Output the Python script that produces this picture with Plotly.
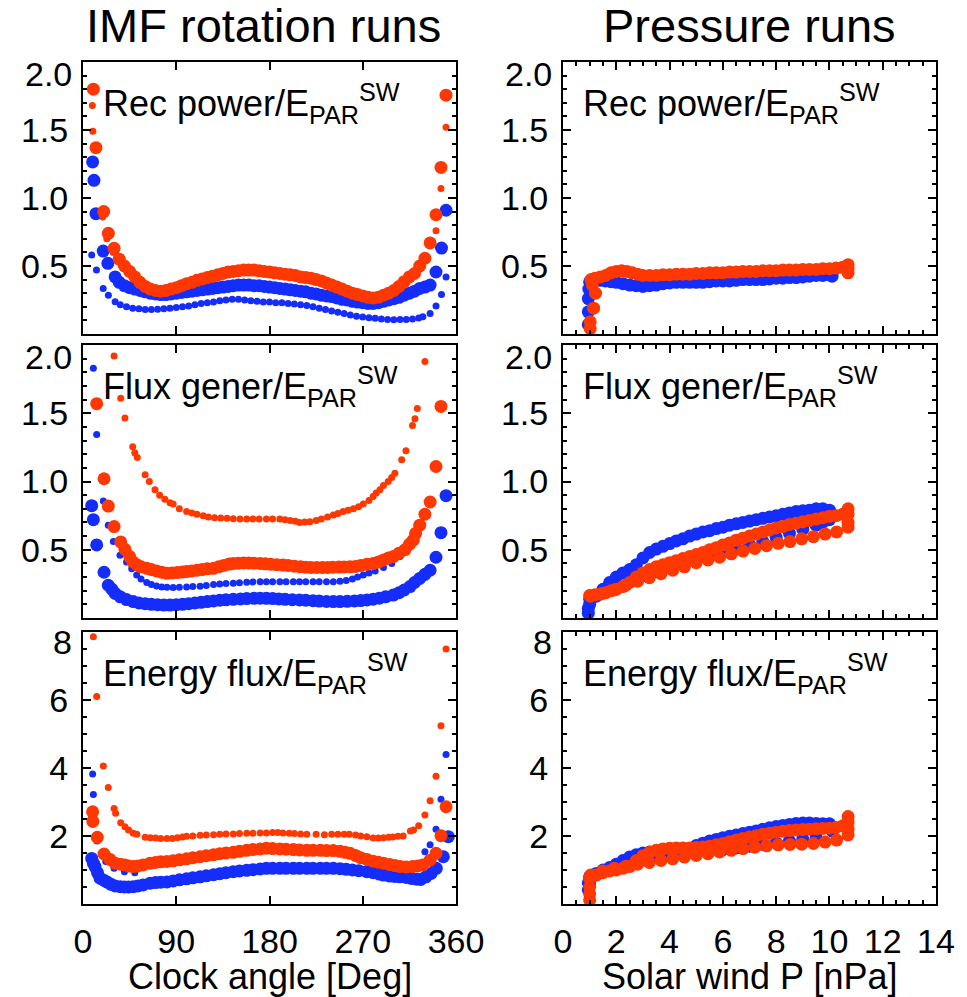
import plotly.graph_objects as go

# ---------------- IMF rotation runs (clock angle, deg) ----------------
# Reconnection power / E_PAR^SW
REC_BB_X = [9.3, 10.6, 12.5, 19.5, 24, 31, 35, 40, 45, 50,
            55, 60, 65, 70, 75, 80, 85, 90, 95, 100,
            105, 110, 115, 120, 125, 130, 135, 140, 145, 150,
            155, 160, 165, 170, 175, 180, 185, 190, 195, 200,
            205, 210, 215, 220, 225, 230, 235, 240, 245, 250,
            255, 260, 265, 270, 275, 280, 285, 290, 295, 300,
            305, 310, 315, 320, 325, 330, 335, 340.7, 346, 350.4]
REC_BB_Y = [1.265, 1.13, 0.885, 0.61, 0.52, 0.42, 0.38, 0.355, 0.34, 0.33,
            0.32, 0.31, 0.30, 0.295, 0.29, 0.29, 0.295, 0.30, 0.305, 0.31,
            0.315, 0.32, 0.325, 0.33, 0.335, 0.34, 0.345, 0.35, 0.355, 0.36,
            0.36, 0.36, 0.355, 0.355, 0.35, 0.345, 0.34, 0.335, 0.33, 0.325,
            0.32, 0.315, 0.31, 0.30, 0.295, 0.285, 0.28, 0.275, 0.265, 0.255,
            0.25, 0.24, 0.235, 0.23, 0.225, 0.225, 0.23, 0.24, 0.25, 0.26,
            0.27, 0.285, 0.30, 0.315, 0.335, 0.345, 0.36, 0.456, 0.632, 0.91]

REC_OB_X = [10, 12.5, 20, 24.5, 30, 35, 40, 45, 50, 55,
            60, 65, 70, 75, 80, 85, 90, 95, 100, 105,
            110, 115, 120, 125, 130, 135, 140, 145, 150, 155,
            160, 165, 170, 175, 180, 185, 190, 195, 200, 205,
            210, 215, 220, 225, 230, 235, 240, 245, 250, 255,
            260, 265, 270, 275, 280, 285, 290, 295, 300, 305,
            310, 315, 320, 325, 330, 335, 340.7, 345.5, 350.4]
REC_OB_Y = [1.80, 1.37, 0.90, 0.74, 0.63, 0.55, 0.50, 0.46, 0.42, 0.38,
            0.35, 0.33, 0.32, 0.315, 0.32, 0.33, 0.34, 0.355, 0.37, 0.38,
            0.395, 0.405, 0.415, 0.425, 0.435, 0.445, 0.455, 0.46, 0.465, 0.47,
            0.47, 0.47, 0.465, 0.46, 0.455, 0.45, 0.445, 0.44, 0.435, 0.43,
            0.42, 0.415, 0.41, 0.40, 0.39, 0.375, 0.36, 0.345, 0.33, 0.315,
            0.30, 0.29, 0.28, 0.27, 0.265, 0.27, 0.285, 0.30, 0.32, 0.35,
            0.385, 0.42, 0.445, 0.50, 0.557, 0.67, 0.877, 1.225, 1.756]

REC_OS_X = [9, 9.5, 19, 23, 29, 40, 60, 80, 100, 120,
            140, 160, 180, 200, 220, 240, 260, 280, 300, 320,
            330, 340.7, 345.5, 350.4]
REC_OS_Y = [1.68, 1.49, 0.86, 0.70, 0.60, 0.48, 0.34, 0.31, 0.36, 0.41,
            0.45, 0.46, 0.45, 0.43, 0.40, 0.35, 0.29, 0.255, 0.31, 0.44,
            0.54, 0.76, 1.07, 1.52]

REC_BS_X = [8.4, 13, 19.5, 24.5, 31, 36, 42, 48, 54, 60,
            66, 72, 78, 84, 90, 96, 102, 108, 114, 120,
            126, 132, 138, 144, 150, 156, 162, 168, 174, 180,
            186, 192, 198, 204, 210, 216, 222, 228, 234, 240,
            246, 252, 258, 264, 270, 276, 282, 288, 294, 300,
            306, 312, 318, 324, 328, 335, 340.7, 346, 350.4]
REC_BS_Y = [0.58, 0.47, 0.335, 0.285, 0.237, 0.215, 0.20, 0.19, 0.185, 0.18,
            0.18, 0.182, 0.185, 0.19, 0.195, 0.20, 0.205, 0.215, 0.225, 0.23,
            0.235, 0.245, 0.25, 0.255, 0.255, 0.25, 0.245, 0.24, 0.235, 0.235,
            0.23, 0.23, 0.225, 0.22, 0.215, 0.21, 0.20, 0.19, 0.18, 0.17,
            0.16, 0.15, 0.14, 0.13, 0.125, 0.12, 0.115, 0.11, 0.107, 0.105,
            0.107, 0.107, 0.11, 0.117, 0.127, 0.15, 0.205, 0.29, 0.42]

# Flux generation / E_PAR^SW
FLUX_OS_X = [30, 36.4, 40.5, 48, 50, 52.4, 60, 64, 69.5, 74,
             79, 84, 87, 93, 100, 105, 110, 116, 121, 127,
             133, 139, 145, 151.5, 158, 164, 170, 177, 183, 190,
             195, 200, 205, 209, 214, 219, 225, 230, 236, 241.6,
             246, 251, 256, 261, 266, 270.5, 276, 280, 283, 286.6,
             290, 294.6, 298, 301, 307.6, 311.7, 318, 320.4, 322.7, 330]
FLUX_OS_Y = [1.92, 1.61, 1.465, 1.255, 1.21, 1.175, 1.05, 1.0, 0.94, 0.90,
             0.87, 0.845, 0.835, 0.80, 0.78, 0.77, 0.76, 0.75, 0.74, 0.735,
             0.732, 0.73, 0.728, 0.725, 0.725, 0.725, 0.725, 0.726, 0.725, 0.725,
             0.72, 0.715, 0.708, 0.70, 0.703, 0.705, 0.715, 0.725, 0.74, 0.755,
             0.765, 0.78, 0.79, 0.80, 0.815, 0.835, 0.86, 0.89, 0.915, 0.94,
             0.97, 1.0, 1.03, 1.06, 1.16, 1.225, 1.41, 1.46, 1.535, 1.88]

FLUX_OB_X = [13.2, 20.3, 24.4, 30, 36.4, 40.5, 45, 48, 52, 56,
             61.5, 66, 71, 76, 81, 86, 91, 96, 100, 105,
             110, 115, 120, 126, 131, 136, 141, 145, 150, 155,
             160, 165, 171, 176, 181, 187, 193, 198, 204, 210,
             215, 220, 225.5, 231, 236, 241, 247, 252, 257.7, 263,
             268, 274, 280, 285, 290, 295, 299.5, 305, 310.7, 315,
             318.7, 321, 325, 330, 335, 340.7, 345.5]
FLUX_OB_Y = [1.57, 1.02, 0.82, 0.67, 0.557, 0.503, 0.45, 0.412, 0.39, 0.375,
             0.364, 0.355, 0.345, 0.335, 0.327, 0.33, 0.333, 0.337, 0.34, 0.345,
             0.35, 0.355, 0.36, 0.364, 0.375, 0.385, 0.395, 0.40, 0.402, 0.403,
             0.403, 0.402, 0.40, 0.397, 0.394, 0.39, 0.388, 0.385, 0.38, 0.375,
             0.372, 0.37, 0.37, 0.37, 0.37, 0.372, 0.373, 0.374, 0.375, 0.378,
             0.385, 0.393, 0.40, 0.41, 0.425, 0.44, 0.45, 0.475, 0.50, 0.54,
             0.57, 0.62, 0.68, 0.76, 0.85, 1.11, 1.55]

FLUX_BB_X = [8.4, 10, 13.2, 20.3, 24.4, 28, 31, 36, 42, 48.5,
             54, 60, 66, 72, 78, 84, 90, 96, 102, 108,
             114, 120, 126, 132, 138, 145, 152, 158, 165, 171,
             177, 183, 189, 195, 202, 209, 215, 222, 228, 235,
             241.6, 248, 255, 262, 268, 274, 280, 286, 292, 299.5,
             305, 310, 315.6, 320, 325, 330, 335, 340.7, 345.5, 350.4]
FLUX_BB_Y = [0.823, 0.72, 0.535, 0.335, 0.24, 0.21, 0.18, 0.155, 0.135, 0.12,
             0.11, 0.105, 0.10, 0.097, 0.095, 0.095, 0.097, 0.10, 0.105, 0.11,
             0.115, 0.12, 0.125, 0.13, 0.133, 0.137, 0.14, 0.142, 0.144, 0.145,
             0.144, 0.142, 0.14, 0.137, 0.134, 0.132, 0.13, 0.127, 0.124, 0.121,
             0.12, 0.12, 0.122, 0.125, 0.128, 0.132, 0.138, 0.145, 0.155, 0.168,
             0.185, 0.205, 0.23, 0.26, 0.29, 0.32, 0.35, 0.445, 0.625, 0.896]

FLUX_BS_X = [10, 13.2, 19.6, 24.4, 29.3, 35.7, 42, 47, 51.8, 56,
             61.5, 66, 71, 76, 81, 87, 93, 100, 106, 113,
             119, 126, 132, 138, 145, 151, 158, 164, 171, 177,
             183, 190, 196, 203, 209, 215, 222, 228, 235, 241.6,
             248, 254, 260, 265, 270.5, 276, 282, 290, 298, 306,
             314, 322]
FLUX_BS_Y = [1.83, 1.345, 0.857, 0.68, 0.56, 0.46, 0.41, 0.36, 0.315, 0.285,
             0.26, 0.245, 0.235, 0.228, 0.225, 0.224, 0.225, 0.227, 0.23, 0.232,
             0.238, 0.245, 0.25, 0.252, 0.254, 0.258, 0.262, 0.264, 0.266, 0.266,
             0.266, 0.266, 0.266, 0.266, 0.266, 0.266, 0.266, 0.266, 0.266, 0.266,
             0.27, 0.275, 0.285, 0.30, 0.315, 0.33, 0.345, 0.37, 0.40, 0.45,
             0.53, 0.645]

# Energy flux / E_PAR^SW
NRG_OS_X = [10, 13.2, 19.6, 24.4, 30, 31.5, 36.4, 40.5, 44, 48.5,
            52, 60, 65, 70, 75, 81, 86, 91, 96, 100,
            106, 113, 119, 126, 132, 138, 145, 151, 158, 164,
            171, 177, 183, 188, 193, 199, 204, 210, 216, 225,
            233, 240, 246, 252, 257, 263, 268, 274, 280, 285,
            290, 295, 299, 304, 309, 316, 319, 324, 330, 335,
            340.7, 345.5, 350.4]
NRG_OS_Y = [7.86, 6.10, 4.06, 3.43, 2.81, 2.67, 2.39, 2.27, 2.18, 2.08,
            2.05, 1.96, 1.95, 1.94, 1.93, 1.93, 1.93, 1.95, 1.97, 1.99,
            2.0, 2.02, 2.03, 2.04, 2.05, 2.06, 2.06, 2.07, 2.08, 2.08,
            2.09, 2.09, 2.10, 2.10, 2.09, 2.08, 2.07, 2.06, 2.05, 2.05,
            2.04, 2.05, 2.05, 2.05, 2.05, 2.03, 2.0, 1.98, 1.94, 1.94,
            1.95, 1.96, 1.97, 1.99, 2.0, 2.15, 2.18, 2.3, 2.62, 3.04,
            3.76, 5.24, 7.5]

NRG_OB_X = [9.3, 9.5, 13.8, 20.3, 26, 31, 36, 40.5, 44, 48.5,
            53, 58, 64.7, 70, 75, 81, 87, 93, 100, 106,
            113, 119, 126, 132, 138, 145, 151, 158, 164, 171,
            177, 183, 190, 196, 203, 209, 216, 222, 229, 235,
            241.6, 248, 253, 257.7, 263, 268, 274, 280, 285, 290,
            296, 301, 306, 312, 318, 323, 328, 335, 340.7, 345.5,
            350.4]
NRG_OB_Y = [2.71, 2.43, 1.96, 1.47, 1.31, 1.2, 1.17, 1.15, 1.12, 1.1,
            1.12, 1.15, 1.2, 1.22, 1.24, 1.25, 1.27, 1.30, 1.33, 1.36,
            1.39, 1.42, 1.45, 1.48, 1.5, 1.52, 1.55, 1.58, 1.6, 1.62,
            1.64, 1.63, 1.62, 1.61, 1.6, 1.59, 1.58, 1.58, 1.58, 1.57,
            1.57, 1.55, 1.52, 1.49, 1.43, 1.36, 1.31, 1.26, 1.23, 1.2,
            1.16, 1.13, 1.1, 1.09, 1.1, 1.12, 1.15, 1.29, 1.49, 2.01,
            2.86]

NRG_BB_X = [8.4, 10, 11.6, 14, 16.4, 20, 23, 27, 31, 36,
            40, 44, 48.5, 53, 58, 64.7, 70, 75, 81, 87,
            93, 100, 106, 113, 119, 126, 132, 138, 145, 151,
            158, 164, 171, 177, 183, 190, 196, 203, 209, 216,
            222, 229, 235, 241.6, 248, 254, 260, 266, 274, 280,
            286, 290, 296, 301, 306, 312, 317, 322, 326, 331,
            336, 341, 347.8, 352.6]
NRG_BB_Y = [1.34, 1.2, 1.10, 0.92, 0.76, 0.7, 0.65, 0.58, 0.53, 0.51,
            0.5, 0.5, 0.51, 0.53, 0.56, 0.61, 0.63, 0.64, 0.65, 0.68,
            0.71, 0.74, 0.77, 0.80, 0.83, 0.86, 0.89, 0.92, 0.95, 0.97,
            0.99, 1.01, 1.03, 1.05, 1.05, 1.05, 1.05, 1.05, 1.05, 1.05,
            1.05, 1.05, 1.05, 1.05, 1.04, 1.02, 1.0, 0.98, 0.95, 0.92,
            0.88, 0.85, 0.82, 0.81, 0.80, 0.78, 0.75, 0.73, 0.72, 0.80,
            0.9, 1.05, 1.39, 1.98]

NRG_BS_X = [9.3, 10, 13.5, 18, 22, 30, 40, 50, 70, 90,
            110, 130, 150, 170, 190, 210, 230, 250, 270, 290,
            310, 325, 330, 335, 340.7, 345.5, 350.4]
NRG_BS_Y = [3.82, 3.22, 1.85, 1.45, 1.25, 1.05, 0.95, 0.92, 0.68, 0.74,
            0.83, 0.93, 1.0, 1.07, 1.09, 1.09, 1.09, 1.07, 1.0, 0.92,
            0.85, 1.2, 1.54, 1.74, 2.2, 3.08, 4.4]

# ---------------- Pressure runs (solar wind P, nPa) ----------------
P_REC_B_X = [0.95, 0.95, 0.95, 0.97, 1.0, 1.2, 1.4, 1.6, 1.8, 2.0,
             2.25, 2.5, 2.75, 3.0, 3.25, 3.5, 3.75, 4.0, 4.25, 4.5,
             4.75, 5.0, 5.25, 5.5, 5.75, 6.0, 6.25, 6.5, 6.75, 7.0,
             7.25, 7.5, 7.75, 8.0, 8.25, 8.5, 8.75, 9.0, 9.25, 9.5,
             9.75, 10.0, 10.1]
P_REC_B_Y = [0.07, 0.163, 0.26, 0.33, 0.383, 0.40, 0.395, 0.39, 0.385, 0.38,
             0.37, 0.36, 0.355, 0.35, 0.355, 0.36, 0.37, 0.375, 0.38, 0.38,
             0.38, 0.38, 0.38, 0.385, 0.39, 0.39, 0.39, 0.395, 0.40, 0.40,
             0.40, 0.40, 0.405, 0.41, 0.41, 0.415, 0.415, 0.42, 0.425, 0.43,
             0.43, 0.435, 0.425]

P_REC_O_X = [1.02, 1.02, 1.15, 1.22, 1.1, 1.05, 1.2, 1.4, 1.6, 1.8,
             2.0, 2.2, 2.4, 2.6, 2.8, 3.0, 3.25, 3.5, 3.75, 4.0,
             4.25, 4.5, 4.75, 5.0, 5.25, 5.5, 5.75, 6.0, 6.25, 6.5,
             6.75, 7.0, 7.25, 7.5, 7.75, 8.0, 8.25, 8.5, 8.75, 9.0,
             9.25, 9.5, 9.75, 10.0, 10.25, 10.5, 10.7, 10.7, 10.7]
P_REC_O_Y = [0.04, 0.09, 0.19, 0.30, 0.36, 0.40, 0.41, 0.42, 0.43, 0.45,
             0.46, 0.465, 0.46, 0.45, 0.44, 0.43, 0.43, 0.43, 0.435, 0.435,
             0.44, 0.44, 0.44, 0.445, 0.445, 0.45, 0.45, 0.45, 0.455, 0.455,
             0.46, 0.46, 0.46, 0.465, 0.465, 0.465, 0.47, 0.47, 0.47, 0.475,
             0.475, 0.475, 0.48, 0.48, 0.485, 0.49, 0.51, 0.48, 0.45]

P_FLUX_B_X = [0.95, 0.95, 1.0, 1.25, 1.5, 1.75, 2.0, 2.25, 2.5, 2.75,
              3.0, 3.25, 3.5, 3.75, 4.0, 4.25, 4.5, 4.75, 5.0, 5.25,
              5.5, 5.75, 6.0, 6.25, 6.5, 6.75, 7.0, 7.25, 7.5, 7.75,
              8.0, 8.25, 8.5, 8.75, 9.0, 9.25, 9.5, 9.75, 10.0, 10.1,
              10.0, 9.75, 9.5, 9.0, 8.5, 8.0, 7.5, 7.0, 6.5, 6.0,
              5.5, 5.0, 4.5, 4.0, 3.5, 3.0, 2.5, 2.0, 1.5, 1.0]
P_FLUX_B_Y = [0.035, 0.07, 0.10, 0.16, 0.21, 0.26, 0.30, 0.33, 0.355, 0.39,
              0.44, 0.48, 0.505, 0.525, 0.545, 0.565, 0.58, 0.60, 0.615, 0.63,
              0.64, 0.655, 0.665, 0.68, 0.69, 0.70, 0.71, 0.72, 0.73, 0.74,
              0.75, 0.76, 0.77, 0.78, 0.785, 0.79, 0.80, 0.80, 0.79, 0.76,
              0.72, 0.70, 0.68, 0.65, 0.62, 0.59, 0.56, 0.535, 0.51, 0.48,
              0.455, 0.43, 0.40, 0.37, 0.34, 0.31, 0.27, 0.23, 0.19, 0.14]

P_FLUX_O_X = [1.0, 1.2, 1.4, 1.6, 1.8, 2.0, 2.25, 2.5, 2.75, 3.0,
              3.25, 3.5, 3.75, 4.0, 4.25, 4.5, 4.75, 5.0, 5.25, 5.5,
              5.75, 6.0, 6.25, 6.5, 6.75, 7.0, 7.25, 7.5, 7.75, 8.0,
              8.25, 8.5, 8.75, 9.0, 9.25, 9.5, 9.75, 10.0, 10.25, 10.5,
              10.7, 10.7, 10.7, 10.7, 10.27, 9.84, 9.4, 8.96, 8.52, 8.08,
              7.64, 7.2, 6.76, 6.32, 5.88, 5.44, 5.0, 4.56, 4.12, 3.68,
              3.24, 2.8, 2.36, 1.92, 1.48, 1.04]
P_FLUX_O_Y = [0.165, 0.17, 0.175, 0.185, 0.20, 0.21, 0.23, 0.26, 0.30, 0.33,
              0.355, 0.375, 0.39, 0.405, 0.42, 0.435, 0.45, 0.465, 0.48, 0.50,
              0.515, 0.535, 0.55, 0.57, 0.585, 0.60, 0.615, 0.63, 0.645, 0.66,
              0.67, 0.685, 0.695, 0.705, 0.715, 0.725, 0.735, 0.745, 0.75, 0.76,
              0.80, 0.76, 0.70, 0.665, 0.63, 0.615, 0.596, 0.58, 0.56, 0.547,
              0.53, 0.51, 0.49, 0.47, 0.445, 0.425, 0.405, 0.375, 0.35, 0.325,
              0.295, 0.27, 0.24, 0.205, 0.18, 0.16]

P_NRG_B_X = [0.95, 0.95, 1.0, 1.25, 1.5, 1.75, 2.0, 2.25, 2.5, 2.75,
             3.0, 3.25, 3.5, 3.75, 4.0, 4.25, 4.5, 4.75, 5.0, 5.25,
             5.5, 5.75, 6.0, 6.25, 6.5, 6.75, 7.0, 7.25, 7.5, 7.75,
             8.0, 8.25, 8.5, 8.75, 9.0, 9.25, 9.5, 9.75, 10.0, 10.1,
             10.1, 9.5, 9.0, 8.5, 8.0, 7.5, 7.0, 6.5, 6.0, 5.5,
             5.0, 4.5, 4.0, 3.5, 3.0, 2.5, 2.0, 1.5, 1.0]
P_NRG_B_Y = [0.41, 0.62, 0.80, 0.9, 1.0, 1.07, 1.17, 1.28, 1.38, 1.45,
             1.50, 1.53, 1.545, 1.55, 1.555, 1.56, 1.57, 1.62, 1.72, 1.79,
             1.85, 1.9, 1.95, 1.99, 2.03, 2.07, 2.11, 2.15, 2.2, 2.24,
             2.28, 2.31, 2.34, 2.37, 2.38, 2.38, 2.37, 2.36, 2.36, 2.25,
             2.15, 1.95, 1.9, 1.85, 1.8, 1.75, 1.7, 1.65, 1.6, 1.55,
             1.5, 1.45, 1.42, 1.38, 1.3, 1.2, 1.1, 0.95, 0.6]

P_NRG_O_X = [1.0, 1.0, 1.0, 1.0, 1.25, 1.5, 1.75, 2.0, 2.25, 2.5,
             2.75, 3.0, 3.25, 3.5, 3.75, 4.0, 4.25, 4.5, 4.75, 5.0,
             5.25, 5.5, 5.75, 6.0, 6.25, 6.5, 6.75, 7.0, 7.25, 7.5,
             7.75, 8.0, 8.25, 8.5, 8.75, 9.0, 9.25, 9.5, 9.75, 10.0,
             10.25, 10.5, 10.7, 10.7, 10.7, 10.7, 10.27, 9.84, 9.4, 8.96,
             8.52, 8.08, 7.64, 7.2, 6.76, 6.32, 5.88, 5.44, 5.0, 4.56,
             4.12, 3.68, 3.24, 2.8, 2.36, 1.92, 1.48, 1.04]
P_NRG_O_Y = [0.12, 0.3, 0.5, 0.76, 0.85, 0.92, 0.97, 1.0, 1.05, 1.1,
             1.28, 1.42, 1.52, 1.58, 1.62, 1.64, 1.65, 1.65, 1.65, 1.66,
             1.68, 1.70, 1.74, 1.78, 1.83, 1.88, 1.93, 1.97, 2.01, 2.05,
             2.08, 2.11, 2.14, 2.16, 2.18, 2.19, 2.2, 2.21, 2.22, 2.23,
             2.25, 2.3, 2.57, 2.4, 2.2, 2.03, 1.88, 1.82, 1.78, 1.76,
             1.75, 1.74, 1.71, 1.67, 1.63, 1.58, 1.53, 1.48, 1.43, 1.38,
             1.33, 1.28, 1.22, 1.17, 1.11, 1.05, 0.97, 0.85]

# ---------------- labels ----------------
COL_TITLES = ["IMF rotation runs", "Pressure runs"]
ROW_LABELS = ["Rec power", "Flux gener", "Energy flux"]
X_TITLES = ["Clock angle [Deg]", "Solar wind P [nPa]"]
ANGLE_TICKS = [0, 90, 180, 270, 360]
RATIO_TICKS = [0.5, 1.0, 1.5]
RATIO_TOP = (2.0, "2.0")
ENERGY_TICKS = [2, 4, 6]
ENERGY_TOP = (8, "8")

# ---------------- style ----------------
FONT = "Liberation Sans, Arial, Helvetica, sans-serif"
BLUE = "rgb(20,45,250)"
RED = "rgb(255,55,0)"
BIG, SMALL = 13, 7

W, H = 967, 997
COL_PX = [(83, 456), (563, 936)]
ROW_PX = [(62, 334), (345, 618), (632, 904)]

# series per panel (row, col), drawn in list order
PANELS = {
    (0, 0): [(REC_BS_X, REC_BS_Y, BLUE, SMALL), (REC_BB_X, REC_BB_Y, BLUE, BIG),
             (REC_OB_X, REC_OB_Y, RED, BIG), (REC_OS_X, REC_OS_Y, RED, SMALL)],
    (1, 0): [(FLUX_BS_X, FLUX_BS_Y, BLUE, SMALL), (FLUX_BB_X, FLUX_BB_Y, BLUE, BIG),
             (FLUX_OB_X, FLUX_OB_Y, RED, BIG), (FLUX_OS_X, FLUX_OS_Y, RED, SMALL)],
    (2, 0): [(NRG_BS_X, NRG_BS_Y, BLUE, SMALL), (NRG_BB_X, NRG_BB_Y, BLUE, BIG),
             (NRG_OB_X, NRG_OB_Y, RED, BIG), (NRG_OS_X, NRG_OS_Y, RED, SMALL)],
    (0, 1): [(P_REC_B_X, P_REC_B_Y, BLUE, BIG), (P_REC_O_X, P_REC_O_Y, RED, BIG)],
    (1, 1): [(P_FLUX_B_X, P_FLUX_B_Y, BLUE, BIG), (P_FLUX_O_X, P_FLUX_O_Y, RED, BIG)],
    (2, 1): [(P_NRG_B_X, P_NRG_B_Y, BLUE, BIG), (P_NRG_O_X, P_NRG_O_Y, RED, BIG)],
}

for series in PANELS.values():
    for xs, ys, _, _ in series:
        assert len(xs) == len(ys), (len(xs), len(ys))


def suffix(r, c):
    i = r * 2 + c + 1
    return "" if i == 1 else str(i)


fig = go.Figure()
for (r, c), series in PANELS.items():
    s = suffix(r, c)
    for xs, ys, color, size in series:
        fig.add_trace(go.Scatter(
            x=xs, y=ys, mode="markers", showlegend=False, hoverinfo="skip",
            marker=dict(color=color, size=size, line=dict(width=0)),
            xaxis="x" + s, yaxis="y" + s))

tick_font = dict(family=FONT, size=34, color="black")
common = dict(showline=True, linecolor="black", linewidth=2, mirror="allticks",
              ticks="inside", ticklen=8, tickwidth=1.5, tickcolor="black",
              showgrid=False, zeroline=False, automargin=False,
              tickfont=tick_font, ticklabeloverflow="allow")


def minor(step):
    return dict(ticks="inside", ticklen=4, tickwidth=1.5, tickcolor="black",
                dtick=step, showgrid=False)


layout = dict(width=W, height=H, margin=dict(l=0, r=0, t=0, b=0),
              paper_bgcolor="white", plot_bgcolor="white", showlegend=False)
annotations = []

for r in range(3):
    for c in range(2):
        s = suffix(r, c)
        x0, x1 = COL_PX[c]
        y0, y1 = ROW_PX[r]
        xa = dict(common, domain=[x0 / W, x1 / W], anchor="y" + s,
                  showticklabels=(r == 2), ticklabelstandoff=6)
        if c == 0:
            xa.update(range=[0, 360], tickmode="array", tickvals=ANGLE_TICKS)
        else:
            xa.update(range=[0, 14], tick0=0, dtick=2, minor=minor(0.5))
        ya = dict(common, domain=[1 - y1 / H, 1 - y0 / H], anchor="x" + s,
                  ticklabelstandoff=6, tickmode="array")
        if r < 2:
            ya.update(range=[0, 2.0], tickvals=RATIO_TICKS,
                      ticktext=[f"{v:.1f}" for v in RATIO_TICKS], minor=minor(0.1))
            (top_val, top_txt), top_shift = RATIO_TOP, -12
        else:
            ya.update(range=[0, 8], tickvals=ENERGY_TICKS,
                      ticktext=[str(v) for v in ENERGY_TICKS], minor=minor(0.5))
            (top_val, top_txt), top_shift = ENERGY_TOP, -10
        layout["xaxis" + s] = xa
        layout["yaxis" + s] = ya

        # top tick label, nudged below the frame edge
        annotations.append(dict(
            text=top_txt, xref="x" + s + " domain", x=0, xanchor="right",
            xshift=-9, yref="y" + s, y=top_val, yanchor="middle",
            yshift=top_shift, showarrow=False, font=tick_font))

        # panel label
        annotations.append(dict(
            text=ROW_LABELS[r] + "/E<sub>PAR</sub><sup>SW</sup>",
            xref="x" + s + " domain", x=0, xanchor="left", xshift=18,
            yref="y" + s + " domain", y=1, yanchor="top", yshift=-14,
            showarrow=False, font=dict(family=FONT, size=36, color="black")))

for c in range(2):
    x0, x1 = COL_PX[c]
    annotations.append(dict(
        text=COL_TITLES[c], xref="paper", yref="paper",
        x=(x0 + x1) / 2 / W - (0.006 if c == 0 else 0), y=1 - 26 / H,
        xanchor="center", yanchor="middle", showarrow=False,
        font=dict(family=FONT, size=47, color="black")))
    annotations.append(dict(
        text=X_TITLES[c], xref="paper", yref="paper",
        x=(x0 + x1) / 2 / W, y=1 - 976 / H,
        xanchor="center", yanchor="middle", showarrow=False,
        font=dict(family=FONT, size=36, color="black")))

layout["annotations"] = annotations
fig.update_layout(**layout)
fig.write_html("out.html")
